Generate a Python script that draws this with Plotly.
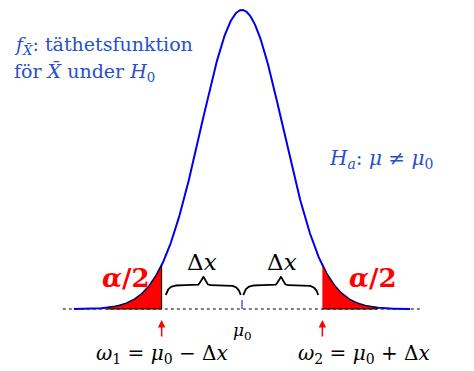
import numpy as np
import plotly.graph_objects as go

# Sampling distribution of X-bar under H0 (standardised units)
mu0 = 0.0
sigma = 1.0
delta = 1.96          # half-width of the acceptance region
x_lo, x_hi = -4.1, 4.1
tail_lo, tail_hi = -3.3, 3.3   # visible extent of the shaded tails

def pdf(x):
    return np.exp(-0.5 * ((x - mu0) / sigma) ** 2) / (sigma * np.sqrt(2 * np.pi))

xs = np.linspace(x_lo, x_hi, 600)
ys = pdf(xs)
peak = pdf(mu0)

w1 = mu0 - delta
w2 = mu0 + delta

BLUE = "#0000ee"
TXT_BLUE = "#2850cc"
RED = "#ff0000"
SERIF = "DejaVu Serif"

fig = go.Figure()

# dotted baseline
fig.add_trace(go.Scatter(x=[-4.37, 4.34], y=[0, 0], mode="lines",
                         line=dict(color="black", width=1, dash="dot"),
                         hoverinfo="skip", showlegend=False))

# density curve
fig.add_trace(go.Scatter(x=xs, y=ys, mode="lines",
                         line=dict(color=BLUE, width=2),
                         hoverinfo="skip", showlegend=False))

# rejection regions (alpha/2 in each tail)
xl = np.linspace(tail_lo, w1, 120)
xr = np.linspace(w2, tail_hi, 120)
for seg in (np.concatenate([xl, [w1, xl[0]]]), np.concatenate([xr, [xr[-1], w2]])):
    yy = np.concatenate([pdf(seg[:-2]), [0, 0]])
    fig.add_trace(go.Scatter(x=seg, y=yy, mode="lines", fill="toself",
                             fillcolor=RED, line=dict(color="black", width=1),
                             hoverinfo="skip", showlegend=False))

# tick at mu0
fig.add_trace(go.Scatter(x=[mu0, mu0], y=[0, 0.012], mode="lines",
                         line=dict(color=BLUE, width=1),
                         hoverinfo="skip", showlegend=False))

# curly braces spanning [w1, mu0] and [mu0, w2]
def brace(a, b, y0, h, n=300):
    t = np.linspace(0, 1, n)
    half = np.where(t < 0.5, t * 2, (1 - t) * 2)
    end = 1 - np.exp(-half * 12)
    tip = np.exp(-((t - 0.5) / 0.04) ** 2)
    yy = y0 + h * 0.55 * end + h * 0.45 * tip
    return a + (b - a) * t, yy

pad = 0.03
py = peak / 299.0   # data units per pixel vertically
for a, b in ((w1 + 0.1, mu0 - pad), (mu0 + pad, w2 - 0.1)):
    bx, by = brace(a, b, 14 * py, 18 * py)
    fig.add_trace(go.Scatter(x=bx, y=by, mode="lines",
                             line=dict(color="black", width=1.8),
                             hoverinfo="skip", showlegend=False))

ann = []
def text(x, y, s, size, color="black", xanchor="center", yanchor="middle", font=SERIF):
    ann.append(dict(x=x, y=y, text=s, showarrow=False, xanchor=xanchor, yanchor=yanchor,
                    font=dict(family=font, size=size, color=color)))

text((w1 + mu0) / 2, 47 * py, "Δ<i>x</i>", 23)
text((w2 + mu0) / 2, 47 * py, "Δ<i>x</i>", 23)
text(w1 - 0.87, 31 * py, "<b><i>α</i>/2</b>", 26, RED)
text(w2 + 1.24, 31 * py, "<b><i>α</i>/2</b>", 26, RED)
text(mu0, -22 * py, "<i>μ</i><sub>0</sub>", 17)
text(5.66, -12 * py, "<i>x̄</i><sub><i>obs</i></sub>", 22, xanchor="right")
text(w1, -45 * py, "<i>ω</i><sub>1</sub> = <i>μ</i><sub>0</sub> − Δ<i>x</i>", 20)
text(w2 + 1.02, -45 * py, "<i>ω</i><sub>2</sub> = <i>μ</i><sub>0</sub> + Δ<i>x</i>", 20)
text(-5.62, 264 * py, "<i>f</i><sub><i>X̄</i></sub>: täthetsfunktion", 19, TXT_BLUE, xanchor="left")
text(-5.62, 237 * py, "för <i>X̄</i> under <i>H</i><sub>0</sub>", 19, TXT_BLUE, xanchor="left")
text(2.07, 150 * py, "<i>H<sub>a</sub></i>: <i>μ</i> ≠ <i>μ</i><sub>0</sub>", 20, TXT_BLUE, xanchor="left")

# arrows marking the critical values
for w in (w1, w2):
    ann.append(dict(x=w, y=-11 * py, ax=w, ay=-29 * py, axref="x", ayref="y",
                    xref="x", yref="y", text="", showarrow=True,
                    arrowhead=2, arrowsize=1, arrowwidth=1.5, arrowcolor=RED))

fig.update_layout(
    width=474, height=371,
    margin=dict(l=0, r=0, t=0, b=0),
    paper_bgcolor="white", plot_bgcolor="white",
    xaxis=dict(range=[-242 / 41, 232 / 41], visible=False, fixedrange=True),
    yaxis=dict(range=[-62 * py, 309 * py], visible=False, fixedrange=True),
    annotations=ann,
    showlegend=False,
)

fig.write_html("out.html")
